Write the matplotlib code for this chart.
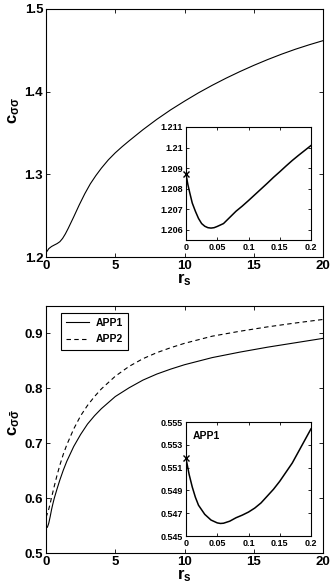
import matplotlib
matplotlib.use("Agg")
import matplotlib.pyplot as plt

plt.rcParams['font.family'] = ['Liberation Sans', 'DejaVu Sans']
plt.rcParams['font.weight'] = 'bold'
plt.rcParams['mathtext.fontset'] = 'custom'
plt.rcParams['mathtext.rm'] = 'Liberation Sans:bold'
plt.rcParams['mathtext.bf'] = 'Liberation Sans:bold'
plt.rcParams['mathtext.it'] = 'Liberation Sans:bold'

# ---- data: top panel (c_sigma sigma) ----
top_x = [0, 0.035, 0.1, 0.2, 0.4, 0.6, 0.8, 1.0, 1.2, 1.4, 1.6, 1.8, 2.0,
         2.4, 2.8, 3.2, 3.6, 4.0, 4.5, 5, 5.5, 6, 7, 8, 9, 10, 11, 12, 13,
         14, 15, 16, 17, 18, 19, 20]
top_y = [1.2087, 1.2061, 1.2075, 1.2101, 1.2127, 1.2145, 1.2162, 1.2185,
         1.2225, 1.2280, 1.2345, 1.2415, 1.2485, 1.2630, 1.2765, 1.2885,
         1.2985, 1.3075, 1.3175, 1.3260, 1.3335, 1.3405, 1.3540, 1.3665,
         1.3780, 1.3885, 1.3985, 1.4077, 1.4163, 1.4243, 1.4318, 1.4388,
         1.4453, 1.4513, 1.4567, 1.4617]
top_in_x = [0, 0.003, 0.006, 0.01, 0.015, 0.02, 0.025, 0.03, 0.035, 0.04,
            0.045, 0.05, 0.06, 0.07, 0.08, 0.09, 0.1, 0.11, 0.12, 0.13, 0.14,
            0.15, 0.16, 0.17, 0.18, 0.19, 0.2]
top_in_y = [1.2087, 1.2082, 1.2078, 1.2073, 1.2069, 1.20655, 1.2063,
            1.20617, 1.2061, 1.20608, 1.2061, 1.20616, 1.2063, 1.2066,
            1.2069, 1.20715, 1.20742, 1.2077, 1.20798, 1.20826, 1.20855,
            1.20882, 1.2091, 1.20937, 1.20962, 1.20986, 1.2101]

# ---- data: bottom panel (c_sigma sigma-bar) ----
app1_x = [0, 0.02, 0.05, 0.1, 0.15, 0.2, 0.3, 0.4, 0.5, 0.6, 0.8, 1.0,
          1.25, 1.5, 2, 2.5, 3, 3.5, 4, 5, 6, 7, 8, 9, 10, 12, 14, 16, 18,
          20]
app1_y = [0.5518, 0.548, 0.5462, 0.5471, 0.5505, 0.5544, 0.566, 0.579,
          0.590, 0.600, 0.617, 0.633, 0.651, 0.667, 0.694, 0.716, 0.735,
          0.750, 0.763, 0.785, 0.801, 0.815, 0.826, 0.835, 0.843, 0.856,
          0.866, 0.875, 0.883, 0.891]
app2_x = [0, 0.1, 0.2, 0.3, 0.4, 0.6, 0.8, 1.0, 1.25, 1.5, 2, 2.5, 3, 3.5,
          4, 5, 6, 7, 8, 9, 10, 12, 14, 16, 18, 20]
app2_y = [0.565, 0.572, 0.580, 0.590, 0.601, 0.622, 0.642, 0.660, 0.680,
          0.697, 0.726, 0.750, 0.769, 0.785, 0.799, 0.822, 0.840, 0.854,
          0.865, 0.874, 0.882, 0.895, 0.904, 0.912, 0.919, 0.9255]
bot_in_x = [0, 0.005, 0.01, 0.015, 0.02, 0.03, 0.04, 0.05, 0.055, 0.06,
            0.07, 0.08, 0.09, 0.1, 0.11, 0.12, 0.13, 0.14, 0.15, 0.16, 0.17,
            0.18, 0.19, 0.2]
bot_in_y = [0.5518, 0.5504, 0.5493, 0.5484, 0.5477, 0.5469, 0.5464,
            0.54615, 0.5461, 0.54612, 0.5463, 0.5466, 0.54683, 0.5471,
            0.54745, 0.5479, 0.5485, 0.5491, 0.5498, 0.5506, 0.5514,
            0.5524, 0.5534, 0.5544]

main_xticks = [0, 5, 10, 15, 20]
top_yticks = [1.2, 1.3, 1.4, 1.5]
bot_yticks = [0.5, 0.6, 0.7, 0.8, 0.9]
in_xticks = [0, 0.05, 0.1, 0.15, 0.2]
top_in_yticks = [1.206, 1.207, 1.208, 1.209, 1.21, 1.211]
bot_in_yticks = [0.545, 0.547, 0.549, 0.551, 0.553, 0.555]

W, H = 332, 587
fig = plt.figure(figsize=(W / 100, H / 100), dpi=100)


def rect(l, r, t, b):
    return [l / W, (H - b) / H, (r - l) / W, (b - t) / H]


def style(ax, size, length):
    ax.tick_params(direction='in', top=True, right=True, labelsize=size,
                   length=length, width=0.6, pad=2)
    for s in ax.spines.values():
        s.set_linewidth(0.8)
    for lab in ax.get_xticklabels() + ax.get_yticklabels():
        lab.set_fontweight('bold')


# top main
ax1 = fig.add_axes(rect(46, 323, 9, 257))
ax1.plot(top_x, top_y, color='black', lw=0.8)
ax1.set_xlim(0, 20)
ax1.set_ylim(1.2, 1.5)
ax1.set_xticks(main_xticks)
ax1.set_yticks(top_yticks)
ax1.set_yticklabels(['1.2', '1.3', '1.4', '1.5'])
style(ax1, 9.5, 3)
ax1.set_xlabel(r'$\mathbf{r}_\mathbf{s}$', fontsize=12, labelpad=0)
ax1.set_ylabel(r'$\mathbf{c}_{\sigma\sigma}$', fontsize=12)
ax1.yaxis.set_label_coords(-0.085, 0.59)

# top inset
ai1 = fig.add_axes(rect(186, 311, 127, 240))
ai1.plot(top_in_x, top_in_y, color='black', lw=1.1)
ai1.plot([top_in_x[0]], [top_in_y[0]], marker='x', color='black', ms=5,
         mew=1.0, clip_on=False)
ai1.set_xlim(0, 0.2)
ai1.set_ylim(1.2055, 1.211)
ai1.set_xticks(in_xticks)
ai1.set_xticklabels(['0', '0.05', '0.1', '0.15', '0.2'])
ai1.set_yticks(top_in_yticks)
ai1.set_yticklabels(['1.206', '1.207', '1.208', '1.209', '1.21', '1.211'])
style(ai1, 6.5, 2.5)

# bottom main
ax2 = fig.add_axes(rect(46, 323, 306, 553))
ax2.plot(app1_x, app1_y, color='black', lw=0.8, label='APP1')
ax2.plot(app2_x, app2_y, color='black', lw=0.8, ls=(0, (4, 3)),
         label='APP2')
ax2.set_xlim(0, 20)
ax2.set_ylim(0.5, 0.95)
ax2.set_xticks(main_xticks)
ax2.set_yticks(bot_yticks)
ax2.set_yticklabels(['0.5', '0.6', '0.7', '0.8', '0.9'])
style(ax2, 9.5, 3)
ax2.set_xlabel(r'$\mathbf{r}_\mathbf{s}$', fontsize=12, labelpad=0)
ax2.set_ylabel(r'$\mathbf{c}_{\sigma\bar{\sigma}}$', fontsize=12)
ax2.yaxis.set_label_coords(-0.085, 0.53)
leg = ax2.legend(loc='upper left', bbox_to_anchor=(0.054, 0.972),
                 prop={'weight': 'bold', 'size': 7.5}, fancybox=False,
                 edgecolor='black', framealpha=1, handlelength=2.2,
                 handletextpad=0.6, borderpad=0.5, labelspacing=0.6,
                 borderaxespad=0)
leg.get_frame().set_linewidth(0.8)

# bottom inset
ai2 = fig.add_axes(rect(186, 311, 422, 536))
ai2.plot(bot_in_x, bot_in_y, color='black', lw=1.1)
ai2.plot([bot_in_x[0]], [bot_in_y[0]], marker='x', color='black', ms=5,
         mew=1.0, clip_on=False)
ai2.set_xlim(0, 0.2)
ai2.set_ylim(0.545, 0.555)
ai2.set_xticks(in_xticks)
ai2.set_xticklabels(['0', '0.05', '0.1', '0.15', '0.2'])
ai2.set_yticks(bot_in_yticks)
ai2.set_yticklabels(['0.545', '0.547', '0.549', '0.551', '0.553', '0.555'])
style(ai2, 6.5, 2.5)
ai2.text(0.055, 0.875, 'APP1', transform=ai2.transAxes, fontsize=7.5,
         fontweight='bold', va='center', ha='left')

fig.savefig('out.png', dpi=100)
